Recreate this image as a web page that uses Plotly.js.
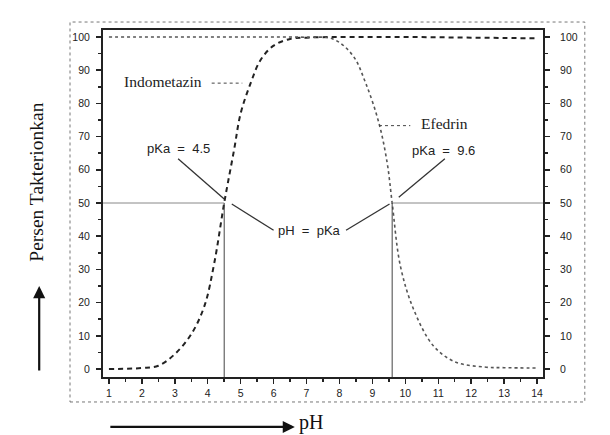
<!DOCTYPE html>
<html>
<head>
<meta charset="utf-8">
<script src="https://cdn.plot.ly/plotly-3.0.1.min.js"></script>
<style>html,body{margin:0;padding:0;background:#fff;}#chart{width:610px;height:435px;}</style>
</head>
<body>
<div id="chart"></div>
<script>
// pH values and percent un-ionised
var phIndo = [1, 2, 2.5, 3, 3.5, 3.9, 4.2, 4.5, 4.8, 5.0, 5.3, 5.6, 6.0, 6.5, 7, 8, 9, 10, 11, 12, 13, 14];
var indometazin = [0, 0.3, 1, 4.5, 10.5, 19, 32, 50, 66, 77, 86, 93, 97.4, 99.4, 99.8, 100, 100, 100, 99.9, 99.8, 99.7, 99.6];
var phEfed = [1, 2, 3, 4, 5, 6, 7, 7.8, 8.4, 8.8, 9.2, 9.45, 9.6, 9.85, 10.25, 10.85, 11.5, 12.4, 13, 14];
var efedrin = [100, 100, 100, 100, 100, 100, 99.9, 99.4, 94.5, 86, 74, 62, 50, 31, 18, 7, 2.2, 0.6, 0.4, 0.3];
var pKaValues = [4.5, 9.6];
var xTicks = [1,2,3,4,5,6,7,8,9,10,11,12,13,14];
var yTicks = [0,10,20,30,40,50,60,70,80,90,100];

var XR = [0.82, 14.18], YR = [-2.4, 102.1];
var tickFont = {family: 'Liberation Sans, Arial, sans-serif', size: 10.5, color: '#222'};
var sans = {family: 'Liberation Sans, Arial, sans-serif', size: 13, color: '#222'};
var serif = {family: 'Liberation Serif, Times New Roman, serif', size: 15.5, color: '#222'};

var traces = [
  {x: phIndo, y: indometazin, mode: 'lines', line: {color: '#222', width: 2, dash: '5px,4px', shape: 'spline'}, hoverinfo: 'skip'},
  {x: phEfed, y: efedrin, mode: 'lines', line: {color: '#555', width: 1.6, dash: 'dot', shape: 'spline'}, hoverinfo: 'skip'},
  {x: [XR[0]], y: [0], yaxis: 'y2', mode: 'markers', marker: {opacity: 0}, hoverinfo: 'skip'}
];

var shapes = [];
// half-ionisation reference lines
shapes.push({type: 'line', x0: XR[0], x1: pKaValues[0], y0: 50, y1: 50, line: {color: '#888', width: 1}});
shapes.push({type: 'line', x0: pKaValues[1], x1: XR[1], y0: 50, y1: 50, line: {color: '#888', width: 1}});
pKaValues.forEach(function(p){
  shapes.push({type: 'line', x0: p, x1: p, y0: YR[0], y1: 50, line: {color: '#444', width: 1}});
});
// leader lines
var leaders = [
  [3.1, 63.3, 4.5, 51.2],
  [4.73, 49.7, 6.0, 41.8],
  [8.2, 41.8, 9.52, 49.7],
  [11.2, 63.3, 9.8, 51.7]
];
leaders.forEach(function(l){
  shapes.push({type: 'line', x0: l[0], y0: l[1], x1: l[2], y1: l[3], line: {color: '#333', width: 1.3}});
});
shapes.push({type: 'line', x0: 4.12, x1: 5.05, y0: 86.1, y1: 86.1, line: {color: '#444', width: 1, dash: 'dot'}});
shapes.push({type: 'line', x0: 9.2, x1: 10.15, y0: 73.3, y1: 73.3, line: {color: '#444', width: 1, dash: 'dot'}});
// outer dotted frame
shapes.push({type: 'rect', xref: 'paper', yref: 'paper', x0: -0.075, x1: 1.095, y0: -0.072, y1: 1.023, line: {color: '#777', width: 1, dash: 'dot'}});

var annotations = [
  {x: 3.1, y: 66.3, text: 'pKa  =  4.5', showarrow: false, font: sans},
  {x: 7.1, y: 41.6, text: 'pH  =  pKa', showarrow: false, font: sans},
  {x: 11.15, y: 65.7, text: 'pKa  =  9.6', showarrow: false, font: sans},
  {x: 2.65, y: 86.5, text: 'Indometazin', showarrow: false, font: serif},
  {x: 11.2, y: 73.8, text: 'Efedrin', showarrow: false, font: serif},
  {xref: 'paper', yref: 'paper', x: -0.150, y: 0.56, text: 'Persen Takterionkan', textangle: -90, showarrow: false,
   xanchor: 'center', yanchor: 'middle',
   font: {family: 'Liberation Serif, Times New Roman, serif', size: 19.5, color: '#111'}},
  {xref: 'paper', yref: 'paper', x: -0.145, y: 0.262, ax: 0, ay: 86, axref: 'pixel', ayref: 'pixel', text: '', showarrow: true,
   arrowhead: 2, arrowsize: 1.1, arrowwidth: 2.2, arrowcolor: '#111', standoff: 0},
  {xref: 'paper', yref: 'paper', x: 0.436, y: -0.144, ax: -186, ay: 0, axref: 'pixel', ayref: 'pixel', text: '', showarrow: true,
   arrowhead: 2, arrowsize: 1.1, arrowwidth: 2.2, arrowcolor: '#111', standoff: 0},
  {xref: 'paper', yref: 'paper', x: 0.44, y: -0.132, xanchor: 'left', yanchor: 'middle', text: 'pH', showarrow: false,
   font: {family: 'Liberation Serif, Times New Roman, serif', size: 20, color: '#111'}}
];

var layout = {
  width: 610, height: 435,
  margin: {l: 103, r: 67, t: 30, b: 58},
  paper_bgcolor: '#fff', plot_bgcolor: '#fff',
  showlegend: false,
  xaxis: {range: XR, tickvals: xTicks, ticktext: xTicks.map(String), ticks: 'outside', ticklen: 5, tickwidth: 1.5, tickcolor: '#222',
    showline: true, linewidth: 2, linecolor: '#222', mirror: true, showgrid: false, zeroline: false, tickfont: tickFont,
    minor: {dtick: 0.5, tick0: 0.5, ticks: 'outside', ticklen: 3, tickcolor: '#222', showgrid: false}},
  yaxis: {range: YR, tickvals: yTicks, ticks: 'outside', ticklen: 5, tickwidth: 1.5, tickcolor: '#222',
    showline: true, linewidth: 2, linecolor: '#222', showgrid: false, zeroline: false, tickfont: tickFont, ticklabelstandoff: 4,
    minor: {dtick: 5, tick0: 0, ticks: 'outside', ticklen: 3, tickcolor: '#222', showgrid: false}},
  yaxis2: {range: YR, overlaying: 'y', side: 'right', tickvals: yTicks, ticks: 'outside', ticklen: 5, tickwidth: 1.5, tickcolor: '#222',
    showline: true, linewidth: 2, linecolor: '#222', showgrid: false, zeroline: false, tickfont: tickFont, ticklabelstandoff: 8,
    minor: {dtick: 5, tick0: 0, ticks: 'outside', ticklen: 3, tickcolor: '#222', showgrid: false}},
  shapes: shapes,
  annotations: annotations
};

Plotly.newPlot('chart', traces, layout, {staticPlot: true, displayModeBar: false});
</script>
</body>
</html>
